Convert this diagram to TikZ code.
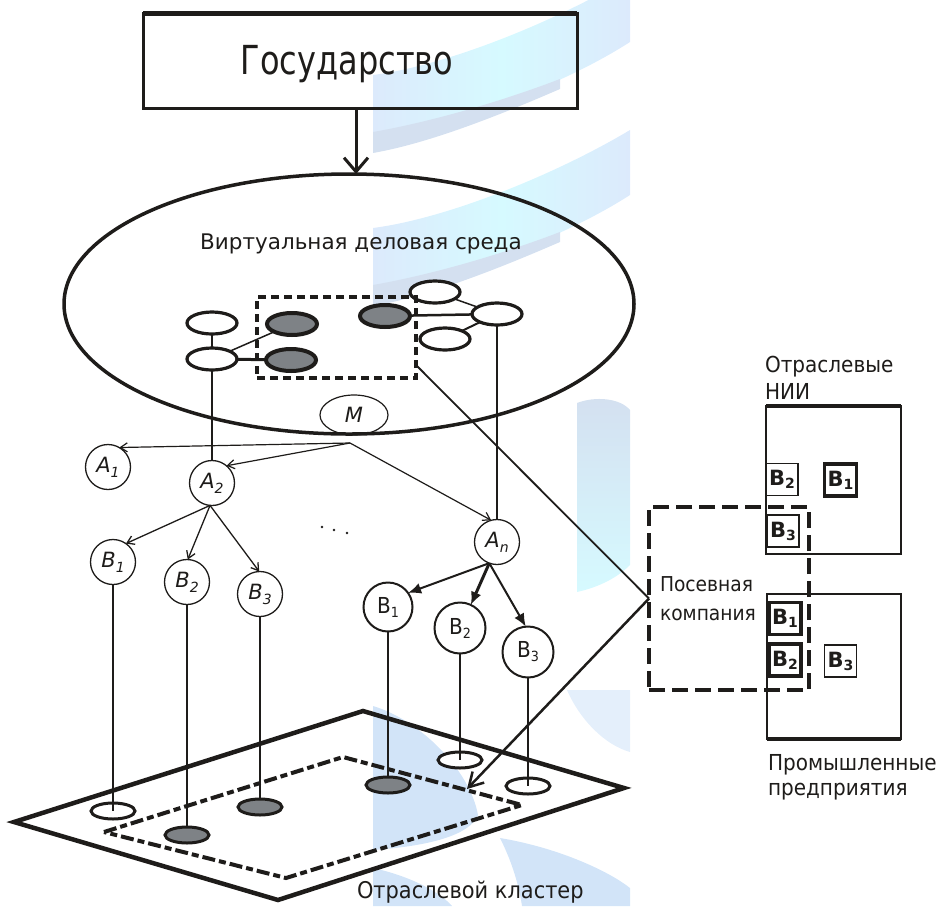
\documentclass[tikz,border=0pt]{standalone}
\usepackage{fontspec}
\setmainfont{DejaVu Sans}
\newfontfamily\cond{DejaVu Sans}[FakeStretch=0.91]
\newfontfamily\narrow{DejaVu Sans}[FakeStretch=0.80]
\usetikzlibrary{shapes.geometric,arrows.meta}
\definecolor{ink}{RGB}{30,28,26}
\definecolor{cellgray}{RGB}{126,130,134}
\definecolor{wmcyan}{RGB}{214,250,255}
\definecolor{wmsky}{RGB}{210,228,248}
\definecolor{wmedge}{RGB}{220,234,252}
\definecolor{wmback}{RGB}{212,224,240}
\newcommand\lowidx[3][-5pt]{\raisebox{#1}{\fontsize{#2}{#2}\selectfont #3}}
\begin{document}
\begin{tikzpicture}[x=1pt,y=-1pt,
  every node/.style={inner sep=0pt, outer sep=0pt, text=ink},
  oval/.style={ellipse, draw=ink, line width=3.2pt, fill=white, minimum width=50pt, minimum height=22pt},
  gcell/.style={oval, fill=cellgray, line width=4pt},
  pad/.style={ellipse, draw=ink, line width=3pt, fill=white, minimum width=44pt, minimum height=16pt},
  gpad/.style={pad, fill=cellgray},
  hand/.style={circle, draw=ink, line width=1.3pt, fill=white, minimum size=45pt, font=\fontsize{21}{21}\selectfont\itshape},
  firm/.style={circle, draw=ink, line width=2pt, fill=white, minimum size=49pt, font=\cond\fontsize{22}{22}\selectfont},
  wire/.style={draw=ink, line width=1.3pt},
  lbl/.style={font=\cond\fontsize{22}{26}\selectfont},
  bbox/.style={draw=ink, line width=1.5pt, fill=white, minimum width=32pt, minimum height=32pt, font=\bfseries\fontsize{21}{21}\selectfont},
  bboxthick/.style={bbox, line width=3.5pt},
  barb/.style={-{Straight Barb[length=7pt,width=9pt]}},
  solid tip/.style={-{Latex[length=13pt,width=11pt]}}
]
\useasboundingbox (0,0) rectangle (940,906);

% background helix watermark: upper turns
\begin{scope}
  \clip (373,-5) rectangle (631,335);
  \foreach \yl in {-16,137,290}{
    \shade[left color=wmedge, right color=wmedge, middle color=wmcyan]
       (373,\yl) .. controls (450,\yl-10) and (560,\yl-50) .. (630,\yl-95)
       -- (630,\yl-160) .. controls (560,\yl-118) and (450,\yl-72) .. (373,\yl-62) -- cycle;
    \fill[wmback] (373,\yl-5) .. controls (430,\yl-15) and (500,\yl-35) .. (560,\yl-58)
       -- (560,\yl-48) .. controls (500,\yl-22) and (430,\yl+6) .. (373,\yl+16) -- cycle;
  }
\end{scope}
% helix: middle strip on its right edge
\shade[top color=wmback, bottom color=wmcyan]
  (577,403) .. controls (595,396) and (620,398) .. (630,410) -- (630,565)
  .. controls (615,580) and (595,588) .. (577,592) -- cycle;
% helix: lower turns
\fill[wmsky] (373,706) .. controls (420,720) and (470,770) .. (478,815)
  .. controls (470,835) and (430,846) .. (373,850) -- cycle;
\fill[wmsky] (500,838) .. controls (560,848) and (610,872) .. (630,888) -- (630,906)
  -- (522,906) .. controls (518,880) and (510,858) .. (500,838) -- cycle;
\fill[wmsky!60!white] (567,690) -- (630,690) -- (630,752) .. controls (605,745) and (580,720) .. (567,690) -- cycle;
\fill[wmsky] (373,868) .. controls (410,876) and (440,892) .. (452,906) -- (373,906) -- cycle;

% state box and the virtual environment
\node[draw=ink, line width=3pt, minimum width=434pt, minimum height=95pt] (state) at (360,60.5) {};
\draw[ink, line width=5pt] (state.north west) -- (state.north east);
\node[anchor=base, font=\narrow\fontsize{40}{44}\selectfont] (statelbl) at (347,74) {Государство};
\node[ellipse, draw=ink, line width=3.5pt, minimum width=570pt, minimum height=260pt] (env) at (349,304) {};
\draw[ink, line width=3pt, -{Straight Barb[length=14pt,width=24pt]}]
  ([xshift=-4pt]state.south) -- ([xshift=-4pt]state.south |- env.north);
\node[anchor=base, font=\fontsize{21.5}{26}\selectfont] (envlbl) at (361,249) {Виртуальная деловая среда};

% network inside the environment
\node[oval] (e1) at (212,323) {};
\node[oval] (e2) at (212,359) {};
\node[gcell] (g1) at (292,324) {};
\node[gcell] (g2) at (291,360) {};
\node[gcell] (g3) at (385,316) {};
\node[oval] (tr) at (435,292) {};
\node[oval] (rr) at (497,314) {};
\node[oval] (lr) at (445,339) {};
\draw[wire] (e1) -- (e2);
\draw[ink, line width=1.5pt] (e2) -- (g1);
\draw[ink, line width=3pt] (e2) -- (g2);
\draw[ink, line width=2.5pt] (g3) -- (rr);
\draw[ink, line width=1.5pt] (tr) -- (rr);
\draw[ink, line width=2pt] (lr) -- (rr);
\node[draw=ink, line width=4pt, dash pattern=on 8pt off 5pt, minimum width=159pt, minimum height=81pt] (grp) at (336.5,337.5) {};

% mediator and agents
\node[ellipse, draw=ink, line width=1.2pt, minimum width=68pt, minimum height=40pt, font=\fontsize{21}{21}\selectfont\itshape] (M) at (354,415) {M};
\coordinate (mo) at (350,443);
\node[hand] (A1) at (108,467) {A\lowidx{14}{1}};
\node[hand] (A2) at (212,483) {A\lowidx{14}{2}};
\node[hand] (An) at (497,542) {A\lowidx{14}{\itshape n}};
\node[hand] (B1) at (113,562) {B\lowidx{14}{1}};
\node[hand] (B2) at (187,582) {B\lowidx{14}{2}};
\node[hand] (B3) at (260,594) {B\lowidx{14}{3}};
\node[firm] (Bn1) at (388,607) {B\lowidx[-4pt]{14}{\cond 1}};
\node[firm, minimum size=51pt] (Bn2) at (460,628) {B\lowidx[-4pt]{14}{\cond 2}};
\node[firm, minimum size=51pt] (Bn3) at (528,652) {B\lowidx[-4pt]{14}{\cond 3}};

\draw[wire] (e2.south) -- (A2.north);
\draw[wire] (rr.south) -- (An.north);
\draw[ink, line width=1.2pt, barb] (mo) -- (A1.60);
\draw[ink, line width=1.2pt, barb] (mo) -- (A2.50);
\draw[ink, line width=1.2pt, barb] (mo) -- (An.105);
\draw[ink, line width=1.3pt, barb] (A2.265) -- (B1.55);
\draw[ink, line width=1.3pt, barb] (A2.265) -- (B2.88);
\draw[ink, line width=1.3pt, barb] (A2.265) -- (B3.92);
\draw[ink, line width=2pt, solid tip] (An.250) -- (Bn1.35);
\draw[ink, line width=3pt, solid tip] (An.250) -- (Bn2.65);
\draw[ink, line width=2pt, solid tip] (An.250) -- (Bn3.95);
\fill[ink] (322,527) circle (1.4) (334,530) circle (1.4) (347,533) circle (1.4);

% industry cluster plate
\coordinate (ol) at (14,822);
\coordinate (ot) at (363,711);
\coordinate (or) at (624,788);
\coordinate (ob) at (278,900);
\coordinate (il) at (104,832);
\coordinate (it) at (343,757);
\coordinate (ir) at (522,805);
\coordinate (ib) at (286,878);
\draw[ink, line width=4.5pt, line join=miter] (ol) -- (ot) -- (or) -- (ob) -- cycle;
\draw[ink, line width=4pt, dash pattern=on 13pt off 4pt on 7pt off 4pt] (il) -- (it) -- (ir) -- (ib) -- cycle;
\node[anchor=base west, font=\cond\fontsize{23}{26}\selectfont] (plate) at (357,898) {Отраслевой кластер};

\node[pad] (p1) at (113,811) {};
\node[gpad] (p2) at (187,835) {};
\node[gpad] (p3) at (260,807) {};
\node[gpad] (p4) at (388,785) {};
\node[pad] (p5) at (460,760) {};
\node[pad] (p6) at (528,786) {};
\draw[wire] (B1.south) -- (p1.center);
\draw[wire] (B2.south) -- (p2.north);
\draw[wire] (B3.south) -- (p3.north);
\draw[wire] (Bn1.south) -- (p4.north);
\draw[wire] (Bn2.south) -- (p5.center);
\draw[wire] (Bn3.south) -- (p6.center);

% research institutes and enterprises
\node[draw=ink, line width=1.5pt, minimum width=135pt, minimum height=148pt] (nii) at (833.5,480) {};
\draw[ink, line width=4pt] (nii.north west) -- (nii.north east);
\node[draw=ink, line width=1.5pt, minimum width=134pt, minimum height=145pt] (ind) at (834,666.5) {};
\draw[ink, line width=4pt] (ind.south west) -- (ind.south east);
\node[anchor=base west, lbl] (niilbl1) at (765,372) {Отраслевые};
\node[anchor=base west, lbl] (niilbl2) at (765,399) {НИИ};
\node[anchor=base west, lbl] (indlbl1) at (768,770) {Промышленные};
\node[anchor=base west, lbl] (indlbl2) at (768,795) {предприятия};

\node[bbox] (nB2) at (782,479.5) {B\lowidx[-3pt]{14}{\bfseries 2}};
\node[bboxthick] (nB1) at (840.5,480) {B\lowidx[-3pt]{14}{\bfseries 1}};
\node[bbox] (nB3) at (783,531) {B\lowidx[-3pt]{14}{\bfseries 3}};
\node[bboxthick] (iB1) at (785,618.5) {B\lowidx[-3pt]{14}{\bfseries 1}};
\node[bboxthick] (iB2) at (785,660) {B\lowidx[-3pt]{14}{\bfseries 2}};
\node[bbox] (iB3) at (840.5,661) {B\lowidx[-3pt]{14}{\bfseries 3}};

% seed company and its links
\node[draw=ink, line width=4pt, dash pattern=on 16pt off 7pt, minimum width=160pt, minimum height=183pt] (seed) at (729,598.5) {};
\node[anchor=base west, font=\cond\fontsize{20.5}{24}\selectfont] (seedlbl1) at (660,591) {Посевная};
\node[anchor=base west, font=\cond\fontsize{20.5}{24}\selectfont] (seedlbl2) at (660,620) {компания};
\coordinate (hit) at (467,789);
\draw[ink, line width=1.8pt] ([yshift=13pt]grp.south east) -- (seed.west);
\draw[ink, line width=2.5pt, -{Straight Barb[length=14pt,width=16pt]}] (seed.west) -- (hit);
\end{tikzpicture}
\end{document}
